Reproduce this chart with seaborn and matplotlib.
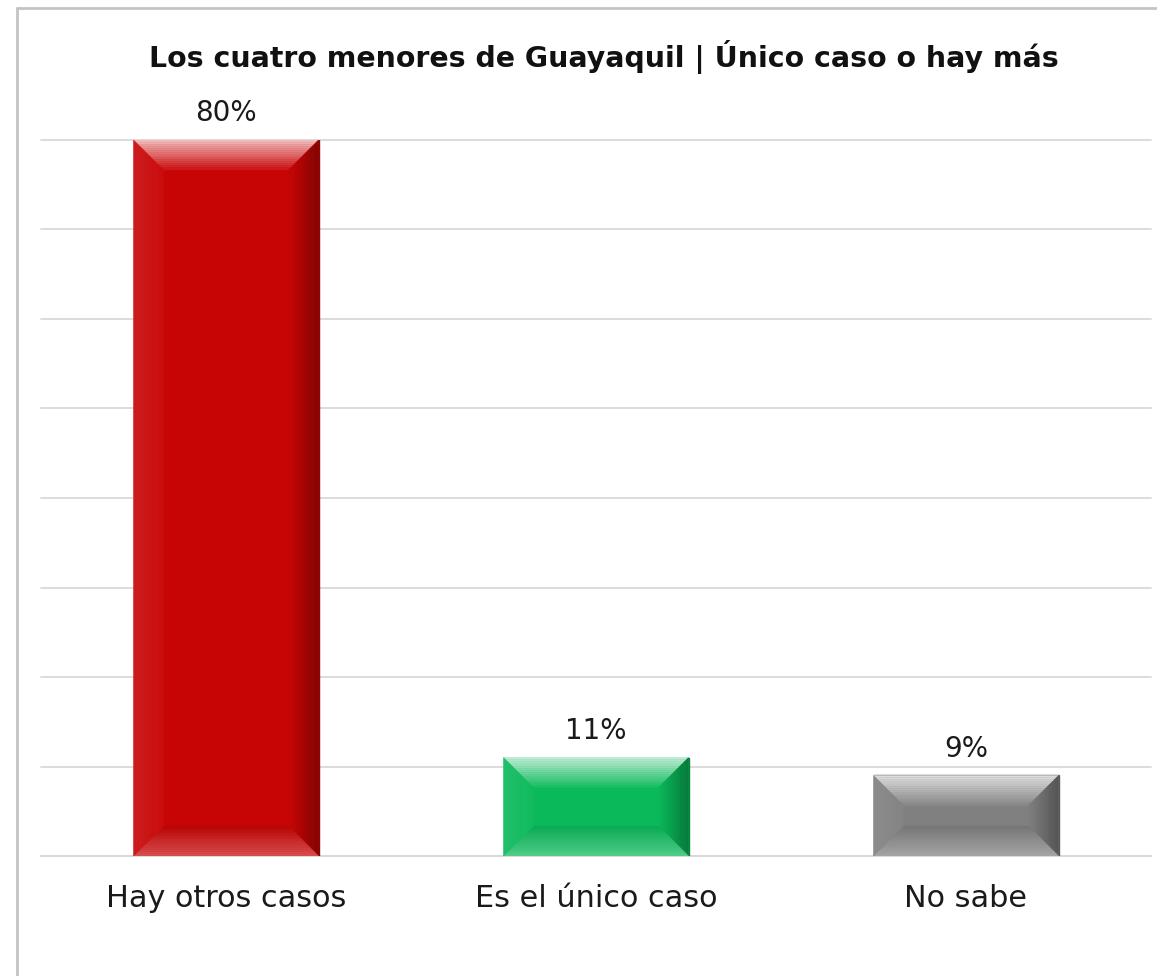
import numpy as np
import pandas as pd
import matplotlib
matplotlib.use("Agg")
import matplotlib.pyplot as plt
import seaborn as sns
from matplotlib.patches import Polygon
from matplotlib.lines import Line2D

categories = ["Hay otros casos", "Es el único caso", "No sabe"]
values = [80, 11, 9]
labels = ["80%", "11%", "9%"]
bar_colors = ["#C80505", "#0AB95A", "#808080"]

sns.set_theme(style="white")
plt.rcParams["font.family"] = ["DejaVu Sans"]

df = pd.DataFrame({"cat": categories, "val": values})

fig = plt.figure(figsize=(11.57, 9.76), dpi=100)
ax = fig.add_axes([41 / 1157, 120 / 976, 1110 / 1157, 716 / 976])

sns.barplot(data=df, x="cat", y="val", hue="cat", palette=bar_colors,
            width=0.5, legend=False, ax=ax, saturation=1, zorder=3)

ax.set_ylim(0, 80)
ax.set_xlim(-0.5, 2.5)
ax.set_yticks(np.arange(0, 81, 10))
ax.set_yticklabels([])
ax.tick_params(axis="y", length=0)
ax.yaxis.grid(True, color="#d9d9d9", linewidth=1.3, zorder=0)
ax.set_axisbelow(True)
for s in ["top", "right", "left"]:
    ax.spines[s].set_visible(False)
ax.spines["bottom"].set_color("#d9d9d9")
ax.spines["bottom"].set_linewidth(1.3)
ax.set_xlabel("")
ax.set_ylabel("")
ax.set_xticks([-0.5, 0.5, 1.5, 2.5], minor=True)
ax.tick_params(axis="x", which="minor", length=10, color="#d9d9d9", width=1.3)
ax.tick_params(axis="x", which="major", length=0, pad=20, labelsize=21.8, labelcolor="#1a1a1a")


def mix(c, other, t):
    c = np.array(matplotlib.colors.to_rgb(c))
    o = np.array(matplotlib.colors.to_rgb(other))
    return c + (o - c) * t


def face(outer, inner, c_out, c_in, n=14):
    # draw a bevel face as stacked strips, fading from c_out to c_in
    inv = ax.transData.inverted()
    outer = [np.array(p, float) for p in outer]
    inner = [np.array(p, float) for p in inner]
    for k in range(n):
        t0, t1 = k / n, (k + 1) / n
        p = [outer[0] + (inner[0] - outer[0]) * t0,
             outer[1] + (inner[1] - outer[1]) * t0,
             outer[1] + (inner[1] - outer[1]) * t1,
             outer[0] + (inner[0] - outer[0]) * t1]
        col = tuple(np.clip(c_out + (c_in - c_out) * (k + 0.5) / n, 0, 1))
        ax.add_patch(Polygon(inv.transform(np.array(p)), closed=True, facecolor=col,
                             edgecolor=col, linewidth=0.3, zorder=4))


fig.canvas.draw()
for gl in ax.yaxis.get_gridlines():
    gl.set_clip_on(False)

for patch, col in zip(ax.patches[:3], bar_colors):
    (x0, y0), (x1, y1) = ax.transData.transform(
        [(patch.get_x(), patch.get_y()),
         (patch.get_x() + patch.get_width(), patch.get_y() + patch.get_height())])
    b = min(30, (y1 - y0) / 2.2)
    ox = [(x0, y1), (x1, y1), (x1, y0), (x0, y0)]
    ix = [(x0 + b, y1 - b), (x1 - b, y1 - b), (x1 - b, y0 + b), (x0 + b, y0 + b)]
    # top
    face((ox[0], ox[1]), (ix[0], ix[1]), mix(col, "white", 0.75), mix(col, "white", 0.05))
    # right
    face((ox[1], ox[2]), (ix[1], ix[2]), mix(col, "black", 0.35), mix(col, "black", 0))
    # bottom
    face((ox[2], ox[3]), (ix[2], ix[3]), mix(col, "white", 0.3), mix(col, "black", 0.08))
    # left
    face((ox[3], ox[0]), (ix[3], ix[0]), mix(col, "white", 0.1), mix(col, "white", 0.03))
    patch.set_edgecolor(tuple(mix(col, "black", 0.3)))
    patch.set_linewidth(1.0)

for i, (v, lab) in enumerate(zip(values, labels)):
    ax.annotate(lab, (i, v), xytext=(0, 9), textcoords="offset points",
                ha="center", va="bottom", fontsize=20, color="#1a1a1a")

fig.text(604 / 1157, 1 - 57 / 976, "Los cuatro menores de Guayaquil | Único caso o hay más",
         ha="center", va="center", fontsize=20.4, fontweight="bold", color="#111111")

# chart frame (cropped on the right and bottom)
fx, fy = 17 / 1157, 1 - 8 / 976
fig.add_artist(Line2D([fx, fx], [0, fy], transform=fig.transFigure, color="#c4c4c4", lw=2))
fig.add_artist(Line2D([fx, 1], [fy, fy], transform=fig.transFigure, color="#c4c4c4", lw=2))

fig.savefig("out.png", dpi=100)
